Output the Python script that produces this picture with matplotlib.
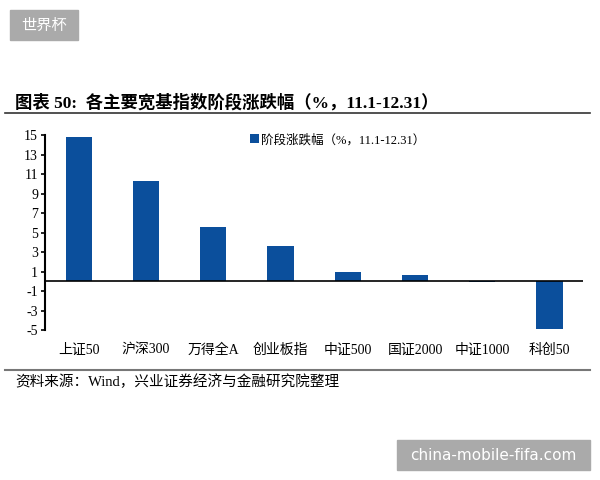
import matplotlib.pyplot as plt
from matplotlib.patches import Rectangle
from matplotlib.lines import Line2D

plt.rcParams['font.family'] = ['Liberation Serif', 'Noto Sans CJK SC', 'DejaVu Sans']

# 数据
categories = ["上证50", "沪深300", "万得全A", "创业板指", "中证500", "国证2000", "中证1000", "科创50"]
values = [14.8, 10.3, 5.6, 3.6, 1.0, 0.6, -0.1, -4.9]
yticks = [15, 13, 11, 9, 7, 5, 3, 1, -1, -3, -5]
series_name = "阶段涨跌幅（%，11.1-12.31）"
title = "图表 50:  各主要宽基指数阶段涨跌幅（%，11.1-12.31）"
source = "资料来源：Wind，兴业证券经济与金融研究院整理"

bar_color = '#0B4F9C'

fig = plt.figure(figsize=(6, 4.8), dpi=100)
ax = fig.add_axes([0.075, 0.3125, 0.897, 0.406])

x = list(range(len(categories)))
ax.bar(x, values, width=0.39, color=bar_color, label=series_name, zorder=2)
ax.axhline(0, color='black', linewidth=1.2, zorder=3)

ax.set_xlim(-0.5, len(categories) - 0.5)
ax.set_ylim(-5, 15)
ax.set_yticks(yticks)
ax.set_yticklabels([str(v) for v in yticks], fontsize=10)
ax.set_xticks(x)
ax.set_xticklabels(categories, fontsize=10)
ax.tick_params(axis='x', length=0, pad=10)
ax.tick_params(axis='y', direction='out', length=3, width=1.2, pad=2)

for s in ['top', 'right', 'bottom']:
    ax.spines[s].set_visible(False)
ax.spines['left'].set_linewidth(1.5)

ax.legend(loc='upper left', bbox_to_anchor=(0.36, 1.065), frameon=False,
          fontsize=9, handlelength=0.7, handleheight=0.7, handletextpad=0.2)

# 标题与分隔线
fig.text(0.025, 0.785, title, fontsize=12.5, fontweight='bold', ha='left', va='center')
fig.add_artist(Line2D([0.008, 0.983], [0.765, 0.765], color='#333333', linewidth=1.2))
fig.add_artist(Line2D([0.008, 0.983], [0.229, 0.229], color='#777777', linewidth=1.5))
fig.text(0.025, 0.205, source, fontsize=10.5, ha='left', va='center')

# 水印框
fig.add_artist(Rectangle((10 / 600, 1 - 40 / 480), 68 / 600, 30 / 480,
                         transform=fig.transFigure, color='#aaaaaa', zorder=5))
fig.text(44 / 600, 1 - 25 / 480, "世界杯", fontsize=11, color='white',
         ha='center', va='center', family=['Noto Sans CJK SC'], zorder=6)
fig.add_artist(Rectangle((397 / 600, 1 - 470 / 480), 193 / 600, 30 / 480,
                         transform=fig.transFigure, color='#aaaaaa', zorder=5))
fig.text(493 / 600, 1 - 455 / 480, "china-mobile-fifa.com", fontsize=11, color='white',
         ha='center', va='center', family=['DejaVu Sans'], zorder=6)

fig.savefig('out.png', dpi=100)
